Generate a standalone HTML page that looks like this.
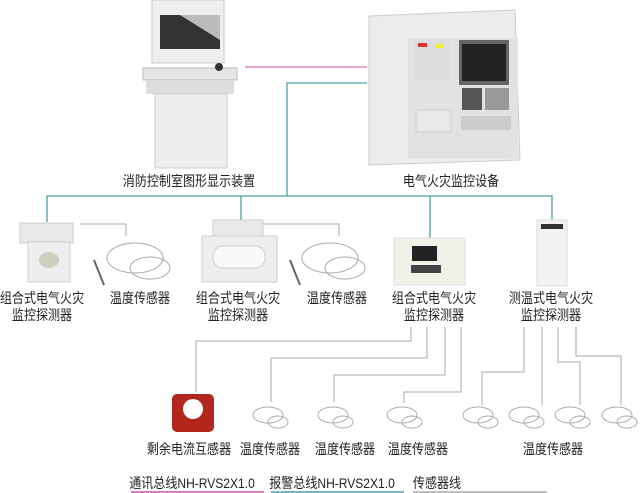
<!DOCTYPE html>
<html><head><meta charset="utf-8"><style>
body{margin:0;width:640px;height:493px;background:#fff;position:relative;overflow:hidden;font-family:"Liberation Sans","Noto Sans CJK SC",sans-serif;}
.t{position:absolute;font-size:14px;color:#222;text-align:center;line-height:17px;white-space:nowrap;transform:translateX(-50%) scaleX(0.86);}
</style></head><body>
<svg width="640" height="493" style="position:absolute;left:0;top:0">
<!-- console -->
<rect x="152" y="0" width="72" height="63" fill="#eee" stroke="#ccc"/>
<rect x="160" y="15" width="60" height="34" fill="#333"/>
<polygon points="180,15 220,15 220,40" fill="#bbb"/>
<rect x="143" y="68" width="94" height="12" fill="#e6e6e6" stroke="#bbb"/>
<rect x="146" y="80" width="88" height="14" fill="#ddd"/>
<rect x="155" y="94" width="72" height="74" fill="#eee" stroke="#ccc"/>
<circle cx="219" cy="67" r="4" fill="#333"/>
<!-- cabinet -->
<polygon points="369,16 515,10 520,160 369,165" fill="#ececec" stroke="#ccc"/>
<rect x="408" y="38" width="110" height="120" fill="#e2e2e2"/>
<rect x="459" y="40" width="50" height="45" fill="#666"/>
<rect x="462" y="44" width="44" height="37" fill="#222"/>
<rect x="414" y="40" width="35" height="40" fill="#ddd"/>
<rect x="418" y="43" width="9" height="4" fill="#d33"/>
<rect x="435" y="44" width="8" height="4" fill="#ee3"/>
<rect x="462" y="88" width="20" height="22" fill="#555"/>
<rect x="485" y="88" width="24" height="22" fill="#999"/>
<rect x="461" y="116" width="50" height="14" fill="#ccc"/>
<rect x="416" y="110" width="35" height="22" fill="#e8e8e8" stroke="#ccc"/>
<!-- bus lines -->
<line x1="245" y1="67" x2="367" y2="67" stroke="#e08ac0" stroke-width="1.5"/>
<polyline points="367,83 287,83 287,196" fill="none" stroke="#4aa0a8" stroke-width="1.3"/>
<polyline points="47,222 47,196 552,196 552,220" fill="none" stroke="#4aa0a8" stroke-width="1.3"/>
<line x1="241" y1="196" x2="241" y2="222" stroke="#4aa0a8" stroke-width="1.3"/>
<line x1="430" y1="196" x2="430" y2="238" stroke="#4aa0a8" stroke-width="1.3"/>
<!-- sensor lines -->
<g fill="none" stroke="#aaa" stroke-width="1">
<polyline points="80,224 126,224 126,236"/>
<polyline points="263,224 339,224 339,236"/>
<polyline points="411,327 411,341 196,341 196,392"/>
<polyline points="427,327 427,358 271,358 271,402"/>
<polyline points="445,327 445,375 334,375 334,402"/>
<polyline points="461,327 461,392 404,392 404,403"/>
<polyline points="524,327 524,372 482,372 482,405"/>
<polyline points="542,327 542,405"/>
<polyline points="558,327 558,362 580,362 580,405"/>
<polyline points="576,327 576,356 621,356 621,405"/>
</g>
<!-- detectors -->
<rect x="20" y="223" width="53" height="20" fill="#e8e8e8" stroke="#ccc"/>
<rect x="28" y="242" width="42" height="40" fill="#eee" stroke="#ccc"/>
<ellipse cx="49" cy="260" rx="10" ry="8" fill="#cfcfc0"/>
<rect x="213" y="220" width="50" height="22" fill="#e8e8e8" stroke="#ccc"/>
<rect x="202" y="236" width="75" height="46" fill="#eee" stroke="#ccc"/>
<rect x="213" y="246" width="52" height="22" rx="10" fill="#fafafa" stroke="#ccc"/>
<rect x="394" y="238" width="71" height="47" fill="#f2f1e8" stroke="#ddd"/>
<rect x="412" y="246" width="25" height="15" fill="#222"/>
<rect x="411" y="265" width="30" height="8" fill="#444"/>
<rect x="537" y="220" width="30" height="66" fill="#f2f2f2" stroke="#ddd"/>
<rect x="541" y="224" width="22" height="5" fill="#333"/>
<!-- CT -->
<rect x="172" y="394" width="42" height="38" rx="5" fill="#b2261c"/>
<circle cx="193" cy="409" r="10" fill="#fff"/>
<!-- coils -->
<g fill="none" stroke="#aaa" stroke-width="1">
<ellipse cx="135" cy="258" rx="28" ry="15"/><ellipse cx="150" cy="268" rx="20" ry="11"/><line x1="94" y1="260" x2="104" y2="285" stroke="#666" stroke-width="2"/>
<ellipse cx="330" cy="258" rx="28" ry="15"/><ellipse cx="345" cy="268" rx="20" ry="11"/><line x1="290" y1="260" x2="300" y2="285" stroke="#666" stroke-width="2"/>
</g>
<g fill="none" stroke="#aaa" stroke-width="1">
<ellipse cx="268" cy="415" rx="15" ry="8"/><ellipse cx="278" cy="422" rx="10" ry="6"/>
<ellipse cx="333" cy="415" rx="15" ry="8"/><ellipse cx="343" cy="422" rx="10" ry="6"/>
<ellipse cx="402" cy="415" rx="15" ry="8"/><ellipse cx="412" cy="422" rx="10" ry="6"/>
<ellipse cx="478" cy="415" rx="15" ry="8"/><ellipse cx="488" cy="422" rx="10" ry="6"/>
<ellipse cx="524" cy="415" rx="15" ry="8"/><ellipse cx="534" cy="422" rx="10" ry="6"/>
<ellipse cx="570" cy="415" rx="15" ry="8"/><ellipse cx="580" cy="422" rx="10" ry="6"/>
<ellipse cx="617" cy="415" rx="15" ry="8"/><ellipse cx="627" cy="422" rx="10" ry="6"/>
</g>
<!-- legend underlines -->
<line x1="131" y1="492" x2="264" y2="492" stroke="#d050a0" stroke-width="1.5"/>
<line x1="271" y1="492" x2="404" y2="492" stroke="#4aa0a8" stroke-width="1.5"/>
<line x1="413" y1="492" x2="547" y2="492" stroke="#aaa" stroke-width="1.5"/>
</svg>
<div class="t" style="left:189px;top:173px">消防控制室图形显示装置</div>
<div class="t" style="left:451px;top:173px">电气火灾监控设备</div>
<div class="t" style="left:42px;top:290px">组合式电气火灾<br>监控探测器</div>
<div class="t" style="left:140px;top:290px">温度传感器</div>
<div class="t" style="left:238px;top:290px">组合式电气火灾<br>监控探测器</div>
<div class="t" style="left:337px;top:290px">温度传感器</div>
<div class="t" style="left:434px;top:290px">组合式电气火灾<br>监控探测器</div>
<div class="t" style="left:551px;top:290px">测温式电气火灾<br>监控探测器</div>
<div class="t" style="left:189px;top:441px">剩余电流互感器</div>
<div class="t" style="left:270px;top:441px">温度传感器</div>
<div class="t" style="left:345px;top:441px">温度传感器</div>
<div class="t" style="left:418px;top:441px">温度传感器</div>
<div class="t" style="left:553px;top:441px">温度传感器</div>
<div class="t" style="left:192px;top:475px">通讯总线NH-RVS2X1.0</div>
<div class="t" style="left:332px;top:475px">报警总线NH-RVS2X1.0</div>
<div class="t" style="left:437px;top:475px">传感器线</div>
</body></html>
